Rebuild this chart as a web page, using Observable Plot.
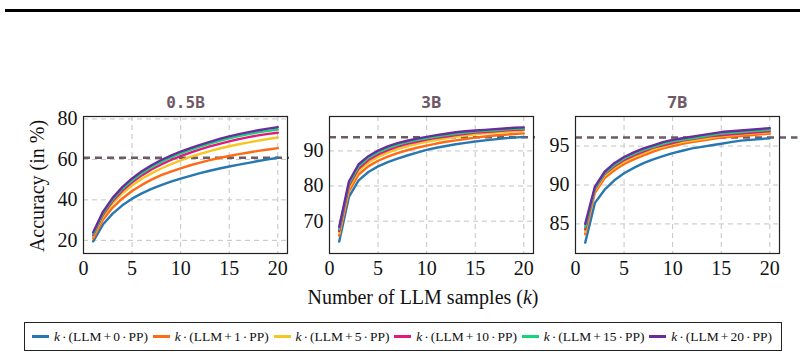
<!DOCTYPE html>
<html>
<head>
<meta charset="utf-8">
<script src="https://cdn.jsdelivr.net/npm/d3@7"></script>
<script src="https://cdn.jsdelivr.net/npm/@observablehq/plot@0.6"></script>
<style>
  html, body { margin: 0; padding: 0; background: #fff; }
  #page { position: relative; width: 804px; height: 359px; overflow: hidden; font-family: "Liberation Serif", serif; }
  .rule { position: absolute; left: 5px; top: 9px; width: 795px; height: 3px; background: #000; }
  .panel { position: absolute; }
  .xlabel { position: absolute; left: 0; width: 846px; top: 286px; text-align: center; font-size: 20px; color: #111; }
  .ylabel { position: absolute; left: 37px; top: 186px; transform: translate(-50%, -50%) rotate(-90deg); white-space: nowrap; font-size: 20px; color: #111; }
  #legend { position: absolute; left: 24px; top: 322px; width: 758px; height: 29px; border: 1px solid #222; box-sizing: border-box;
            display: flex; align-items: center; justify-content: space-between; padding: 0 9px 0 7px; font-size: 13.5px; color: #111; }
  .item { display: flex; align-items: center; white-space: nowrap; }
  .swatch { display: inline-block; width: 17px; height: 3px; margin-right: 5px; }
  .op { margin: 0 2px; }
</style>
</head>
<body>
<div id="page">
  <div class="rule"></div>
  <div class="ylabel">Accuracy (in %)</div>
  <div class="xlabel">Number of LLM samples (<i>k</i>)</div>
  <div id="legend"></div>
</div>
<script>
// Number of sampled LLM programs per problem
const ks = [1, 2, 3, 4, 5, 6, 7, 8, 9, 10, 11, 12, 13, 14, 15, 16, 17, 18, 19, 20];

// Series: number of extra PP samples per LLM sample
const ppCounts = [0, 1, 5, 10, 15, 20];
const seriesColors = ["#2777b0", "#ff6a14", "#f7c520", "#e3187c", "#18d27a", "#6a2c9c"];

// 0.5B model accuracy (%) for each series
const acc05B = [
  [19.5, 27.8, 33.2, 37.3, 40.6, 43.2, 45.4, 47.3, 49.0, 50.5, 51.9, 53.2, 54.4, 55.5, 56.5, 57.4, 58.3, 59.2, 60.0, 60.8],
  [21.0, 30.2, 36.2, 40.7, 44.4, 47.4, 50.0, 52.2, 54.0, 55.6, 57.1, 58.4, 59.6, 60.7, 61.7, 62.6, 63.4, 64.2, 64.9, 65.6],
  [22.0, 31.8, 38.3, 43.2, 47.1, 50.4, 53.1, 55.5, 57.6, 59.5, 61.2, 62.7, 64.1, 65.4, 66.5, 67.5, 68.4, 69.3, 70.1, 70.8],
  [22.6, 32.6, 39.4, 44.6, 48.7, 52.1, 55.0, 57.5, 59.7, 61.6, 63.3, 64.9, 66.4, 67.7, 68.9, 70.0, 71.0, 71.9, 72.6, 73.2],
  [23.2, 33.3, 40.2, 45.5, 49.7, 53.2, 56.2, 58.8, 61.0, 63.0, 64.7, 66.3, 67.8, 69.2, 70.4, 71.5, 72.5, 73.4, 74.1, 74.7],
  [24.0, 34.1, 41.0, 46.3, 50.6, 54.1, 57.1, 59.7, 61.9, 63.9, 65.6, 67.2, 68.7, 70.1, 71.4, 72.5, 73.5, 74.4, 75.2, 75.9]
];

// 3B model accuracy (%)
const acc3B = [
  [64.2, 76.9, 81.6, 84.0, 85.6, 86.8, 87.8, 88.7, 89.5, 90.3, 90.9, 91.4, 91.9, 92.3, 92.7, 93.0, 93.3, 93.6, 93.8, 94.0],
  [65.9, 78.5, 83.3, 85.6, 87.2, 88.4, 89.4, 90.2, 90.9, 91.5, 92.1, 92.6, 93.0, 93.4, 93.8, 94.1, 94.4, 94.6, 94.8, 95.0],
  [66.6, 79.4, 84.3, 86.7, 88.3, 89.5, 90.5, 91.3, 92.0, 92.6, 93.1, 93.6, 94.0, 94.4, 94.7, 95.0, 95.2, 95.4, 95.6, 95.8],
  [67.2, 80.1, 85.0, 87.4, 89.0, 90.2, 91.2, 92.0, 92.6, 93.2, 93.7, 94.1, 94.5, 94.9, 95.2, 95.4, 95.6, 95.8, 96.0, 96.1],
  [67.8, 80.7, 85.6, 88.0, 89.6, 90.8, 91.7, 92.5, 93.1, 93.6, 94.1, 94.5, 94.9, 95.2, 95.5, 95.7, 95.9, 96.1, 96.3, 96.4],
  [68.4, 81.3, 86.2, 88.5, 90.1, 91.3, 92.2, 92.9, 93.5, 94.0, 94.5, 94.9, 95.3, 95.6, 95.8, 96.0, 96.2, 96.4, 96.6, 96.7]
];

// 7B model accuracy (%)
const acc7B = [
  [82.6, 87.7, 89.4, 90.6, 91.5, 92.2, 92.8, 93.3, 93.7, 94.1, 94.4, 94.7, 94.9, 95.1, 95.3, 95.5, 95.7, 95.8, 95.9, 96.0],
  [83.7, 89.0, 90.9, 91.9, 92.7, 93.3, 93.8, 94.3, 94.7, 95.0, 95.3, 95.5, 95.7, 95.9, 96.1, 96.2, 96.3, 96.4, 96.5, 96.6],
  [84.0, 89.3, 91.2, 92.2, 93.0, 93.6, 94.1, 94.6, 94.9, 95.3, 95.5, 95.7, 95.9, 96.1, 96.3, 96.4, 96.5, 96.6, 96.7, 96.8],
  [84.3, 89.5, 91.4, 92.4, 93.2, 93.8, 94.3, 94.8, 95.1, 95.4, 95.7, 95.9, 96.1, 96.3, 96.4, 96.5, 96.6, 96.7, 96.8, 96.9],
  [84.6, 89.6, 91.5, 92.6, 93.4, 94.0, 94.5, 94.9, 95.3, 95.6, 95.8, 96.0, 96.2, 96.4, 96.6, 96.7, 96.8, 96.9, 97.0, 97.1],
  [85.0, 89.8, 91.7, 92.8, 93.6, 94.2, 94.7, 95.1, 95.5, 95.8, 96.0, 96.2, 96.4, 96.6, 96.8, 96.9, 97.0, 97.1, 97.2, 97.3]
];

// Reference accuracy of a larger baseline (dashed line) per panel
const baselines = [60.8, 93.9, 96.1];

const panelTitles = ["0.5B", "3B", "7B"];
const titleFonts = ["'DejaVu Sans Mono', monospace", "'Open Sans', sans-serif", "'Open Sans', sans-serif"];
const xTicks = [0, 5, 10, 15, 20];
const yTicks = [[20, 40, 60, 80], [70, 80, 90], [85, 90, 95]];
const yDomains = [[13.5, 81.2], [60.8, 99.8], [81.2, 98.8]];
const baselineEnds = [21.2, 21.2, 22.9];
const frameLefts = [83, 329, 575];

const seriesName = (pp) => `k · (LLM + ${pp} · PP)`;

const mL = 50, mR = 30, mT = 32, mB = 32, frameW = 204, frameH = 137, frameTop = 116;
const page = document.getElementById("page");

[acc05B, acc3B, acc7B].forEach((acc, i) => {
  const rows = [];
  acc.forEach((vals, s) => vals.forEach((v, j) => rows.push({k: ks[j], acc: v, pp: seriesName(ppCounts[s])})));

  const chart = Plot.plot({
    width: mL + frameW + mR,
    height: mT + frameH + mB,
    marginLeft: mL, marginRight: mR, marginTop: mT, marginBottom: mB,
    style: {fontFamily: "'Liberation Serif', serif", fontSize: "20px", color: "#111", background: "transparent", overflow: "visible"},
    x: {domain: [0, 21], label: null},
    y: {domain: yDomains[i], label: null},
    color: {domain: ppCounts.map(seriesName), range: seriesColors},
    marks: [
      Plot.gridX(xTicks, {stroke: "#c4c4c4", strokeOpacity: 1, strokeDasharray: "5,4"}),
      Plot.gridY(yTicks[i], {stroke: "#c4c4c4", strokeOpacity: 1, strokeDasharray: "5,4"}),
      Plot.axisX(xTicks, {tickSize: 0, tickPadding: 7, fontSize: 20}),
      Plot.axisY(yTicks[i], {tickSize: 0, tickPadding: 6, fontSize: 20}),
      Plot.ruleY([baselines[i]], {x1: 0, x2: baselineEnds[i], stroke: "#6e5967", strokeWidth: 2.6, strokeDasharray: "7,5"}),
      Plot.line(rows, {x: "k", y: "acc", stroke: "pp", strokeWidth: 2.4, curve: "linear"}),
      Plot.frame({stroke: "#222", strokeWidth: 1.2}),
      Plot.text([panelTitles[i]], {frameAnchor: "top", dy: -20, fontWeight: "bold", fontSize: 16, fill: "#6e5967", fontFamily: titleFonts[i]})
    ]
  });
  chart.classList.add("panel");
  chart.style.left = (frameLefts[i] - mL) + "px";
  chart.style.top = (frameTop - mT) + "px";
  page.appendChild(chart);
});

// Legend row
const legend = document.getElementById("legend");
ppCounts.forEach((pp, s) => {
  const item = document.createElement("div");
  item.className = "item";
  item.innerHTML = `<span class="swatch" style="background:${seriesColors[s]}"></span><span><i>k</i><span class="op">·</span>(LLM<span class="op">+</span>${pp}<span class="op">·</span>PP)</span>`;
  legend.appendChild(item);
});
</script>
</body>
</html>
